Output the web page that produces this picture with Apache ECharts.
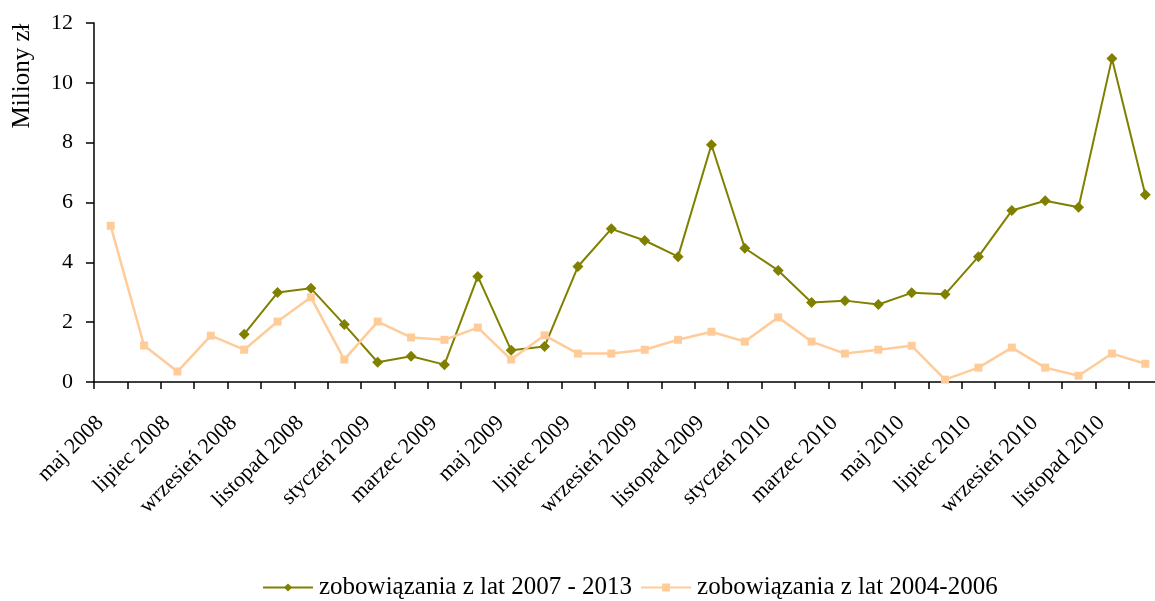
<!DOCTYPE html>
<html>
<head>
<meta charset="utf-8">
<title>zobowiązania</title>
<script src="https://cdn.jsdelivr.net/npm/echarts@6/dist/echarts.min.js"></script>
<style>
  html, body { margin: 0; padding: 0; background: #fff; }
  #chart { width: 1155px; height: 601px; }
</style>
</head>
<body>
<div id="chart"></div>
<script>
// miesiące maj 2008 - grudzień 2010
var months = [
  "maj 2008", "czerwiec 2008", "lipiec 2008", "sierpień 2008", "wrzesień 2008", "październik 2008",
  "listopad 2008", "grudzień 2008", "styczeń 2009", "luty 2009", "marzec 2009", "kwiecień 2009",
  "maj 2009", "czerwiec 2009", "lipiec 2009", "sierpień 2009", "wrzesień 2009", "październik 2009",
  "listopad 2009", "grudzień 2009", "styczeń 2010", "luty 2010", "marzec 2010", "kwiecień 2010",
  "maj 2010", "czerwiec 2010", "lipiec 2010", "sierpień 2010", "wrzesień 2010", "październik 2010",
  "listopad 2010", "grudzień 2010"
];
// zobowiązania z lat 2007 - 2013 (od wrzesnia 2008)
var values0713 = [
  null, null, null, null, 1.60, 2.99, 3.13, 1.92, 0.66, 0.86, 0.58, 3.53,
  1.06, 1.19, 3.86, 5.12, 4.73, 4.19, 7.93, 4.47, 3.73, 2.66, 2.72, 2.59,
  2.98, 2.93, 4.19, 5.73, 6.06, 5.84, 10.81, 6.26
];
// zobowiązania z lat 2004-2006
var values0406 = [
  5.22, 1.22, 0.35, 1.55, 1.08, 2.02, 2.83, 0.75, 2.02, 1.49, 1.41, 1.82,
  0.75, 1.56, 0.95, 0.95, 1.08, 1.41, 1.68, 1.35, 2.16, 1.35, 0.95, 1.08,
  1.21, 0.08, 0.48, 1.15, 0.48, 0.21, 0.95, 0.61
];
var yTicks = [0, 2, 4, 6, 8, 10, 12];

var font = '"Liberation Serif", "Times New Roman", serif';
var myChart = echarts.init(document.getElementById("chart"));

var option = {
  animation: false,
  backgroundColor: "#fff",
  textStyle: { fontFamily: font, color: "#000" },
  grid: {
    left: 94,
    top: 23,
    width: 1068,
    height: 359,
    outerBoundsMode: "none"
  },
  graphic: [
    {
      type: "text",
      x: 22,
      y: 76,
      rotation: Math.PI / 2,
      style: {
        text: "Miliony zł",
        font: "25px " + font,
        fill: "#000",
        textAlign: "center",
        textVerticalAlign: "middle"
      }
    }
  ],
  legend: {
    left: 262,
    top: 575,
    padding: 0,
    itemWidth: 50,
    itemHeight: 10,
    itemGap: 8,
    data: ["zobowiązania z lat 2007 - 2013", "zobowiązania z lat 2004-2006"],
    textStyle: {
      fontFamily: font,
      fontSize: 25,
      color: "#000",
      padding: [0, 0, 0, 1]
    }
  },
  xAxis: {
    type: "category",
    boundaryGap: true,
    data: months,
    axisLine: { lineStyle: { color: "#000", width: 1.5 } },
    axisTick: {
      show: true,
      alignWithLabel: false,
      interval: 0,
      length: 7,
      lineStyle: { color: "#000", width: 1.5 }
    },
    axisLabel: {
      interval: 1,
      rotate: 45,
      margin: 27,
      padding: [0, 15, 0, 0],
      fontFamily: font,
      fontSize: 22,
      color: "#000"
    },
    splitLine: { show: false }
  },
  yAxis: {
    type: "value",
    min: yTicks[0],
    max: yTicks[yTicks.length - 1],
    interval: 2,
    axisLine: { show: true, lineStyle: { color: "#000", width: 1.5 } },
    axisTick: { show: true, length: 8, lineStyle: { color: "#000", width: 1.5 } },
    axisLabel: {
      margin: 21,
      fontFamily: font,
      fontSize: 22,
      color: "#000"
    },
    splitLine: { show: false }
  },
  series: [
    {
      name: "zobowiązania z lat 2007 - 2013",
      type: "line",
      data: values0713,
      symbol: "diamond",
      symbolSize: 11,
      lineStyle: { color: "#808000", width: 2 },
      itemStyle: { color: "#808000" },
      smooth: false
    },
    {
      name: "zobowiązania z lat 2004-2006",
      type: "line",
      data: values0406,
      symbol: "rect",
      symbolSize: 8,
      lineStyle: { color: "#FFCC99", width: 2.5 },
      itemStyle: { color: "#FFCC99" },
      smooth: false
    }
  ]
};

myChart.setOption(option);
window.addEventListener("resize", function () {
  myChart.resize();
});
</script>
</body>
</html>
